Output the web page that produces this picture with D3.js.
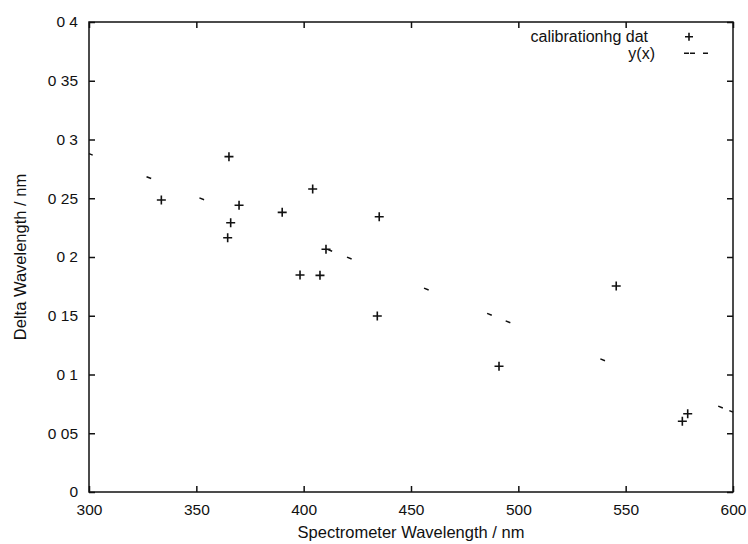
<!DOCTYPE html>
<html><head><meta charset="utf-8">
<script src="https://cdn.jsdelivr.net/npm/d3@7"></script>
<style>body{margin:0;background:#fff}svg{display:block}text{font-family:"Liberation Sans",Arial,sans-serif;fill:#111}</style>
</head><body><svg id="c" width="748" height="544"></svg>
<script>
const dataX = [333.7,365.2,369.9,390.0,404.2,366.0,364.6,435.2,410.4,398.3,407.6,434.3,545.6,491.0,578.9,576.4];
const dataY = [0.2485,0.2854,0.244,0.238,0.2579,0.2292,0.2164,0.2343,0.2066,0.1847,0.1844,0.1498,0.1753,0.107,0.0666,0.0602];
const fitX = [300,600];
const fitY = [0.288,0.068];
const xTicks = [300,350,400,450,500,550,600];
const yTicks = [0,0.05,0.1,0.15,0.2,0.25,0.3,0.35,0.4];
const yTickLabels = ["0","0 05","0 1","0 15","0 2","0 25","0 3","0 35","0 4"];
const legendLabels = ["calibrationhg dat","y(x)"];

const L=89,R=733,T=22,B=492;
const svg=d3.select("#c");
const x=d3.scaleLinear().domain([300,600]).range([L,R]);
const y=d3.scaleLinear().domain([0,0.4]).range([B,T]);

const ax=svg.append("g").attr("transform",`translate(0,${B})`)
  .call(d3.axisBottom(x).tickValues(xTicks).tickSize(-6).tickPadding(12).tickFormat(d3.format("d")));
const axT=svg.append("g").attr("transform",`translate(0,${T})`)
  .call(d3.axisTop(x).tickValues(xTicks).tickSize(-6).tickFormat(""));
const ay=svg.append("g").attr("transform",`translate(${L},0)`)
  .call(d3.axisLeft(y).tickValues(yTicks).tickSize(-6).tickPadding(11).tickFormat((d,i)=>yTickLabels[i]));
const ayR=svg.append("g").attr("transform",`translate(${R},0)`)
  .call(d3.axisRight(y).tickValues(yTicks).tickSize(-6).tickFormat(""));
[ax,axT,ay,ayR].forEach(g=>{
  g.attr("font-size",15.5).attr("font-family","Liberation Sans,Arial,sans-serif");
  g.select(".domain").remove();
  g.selectAll(".tick line").attr("stroke","#111").attr("stroke-width",1.5);
  g.selectAll(".tick text").style("font-size","15.5px").attr("fill","#111");
});
svg.append("rect").attr("x",L).attr("y",T).attr("width",R-L).attr("height",B-T)
  .attr("fill","none").attr("stroke","#111").attr("stroke-width",1.5);

// fit line (sparse dashes as in the scan)
svg.append("line").attr("x1",x(fitX[0])).attr("y1",y(fitY[0])).attr("x2",x(fitX[1])).attr("y2",y(fitY[1]))
  .attr("stroke","#111").attr("stroke-width",1.5)
  .attr("stroke-dasharray","4,58,5,52,5,133,5,16,5,78,5,63,5,15,5,97,5,122,5,7,4,100");

// points
const pts=svg.append("g");
dataX.forEach((d,i)=>{
  const cx=x(d),cy=y(dataY[i]);
  pts.append("path").attr("d",`M${cx-4.5},${cy}H${cx+4.5}M${cx},${cy-4.5}V${cy+4.5}`)
    .attr("stroke","#111").attr("stroke-width",1.6);
});

// legend
svg.append("text").attr("x",648).attr("y",42).attr("text-anchor","end").attr("font-size",16).text(legendLabels[0]);
svg.append("text").attr("x",655).attr("y",58.5).attr("text-anchor","end").attr("font-size",16).text(legendLabels[1]);
svg.append("path").attr("d","M685,36.7H693M689,32.7V40.7").attr("stroke","#111").attr("stroke-width",1.6);
svg.append("path").attr("d","M684,53.3H689M690,53.3H695M703,53.3H708").attr("stroke","#111").attr("stroke-width",1.6);

// axis titles
svg.append("text").attr("x",(L+R)/2).attr("y",538).attr("text-anchor","middle").attr("font-size",16.5).text("Spectrometer Wavelength / nm");
svg.append("text").attr("transform",`translate(26,${(T+B)/2}) rotate(-90)`).attr("text-anchor","middle").attr("font-size",16.5).text("Delta Wavelength / nm");
</script></body></html>
